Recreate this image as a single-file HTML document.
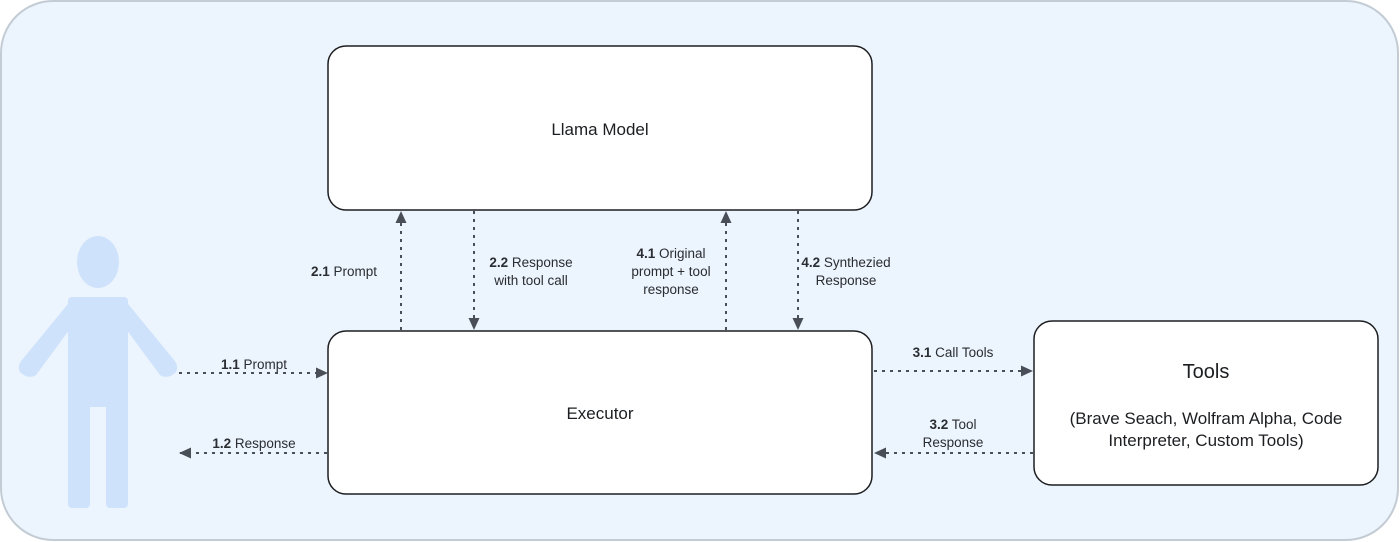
<!DOCTYPE html>
<html><head><meta charset="utf-8"><style>
html,body{margin:0;padding:0;background:#fff;}
svg{display:block;}
text{font-family:"Liberation Sans",sans-serif;fill:#1c1e21;}
.l{font-size:13.5px;fill:#2a2d31;}
.b{font-weight:bold;}
</style></head><body>
<svg width="1400" height="542" viewBox="0 0 1400 542" xmlns="http://www.w3.org/2000/svg">
<defs>
<marker id="ah" markerWidth="12" markerHeight="12" refX="11" refY="6" orient="auto" markerUnits="userSpaceOnUse">
<path d="M0,0.5 L12,6 L0,11.5 Z" fill="#4a4f57"/>
</marker>
</defs>
<rect x="1" y="1" width="1397" height="539" rx="52" fill="#ecf4fd" stroke="#c3cbd4" stroke-width="2"/>
<g fill="#cfe2fc">
<ellipse cx="98" cy="262" rx="21" ry="26"/>
<rect x="68" y="297" width="60" height="110" rx="4"/>
<rect x="68" y="390" width="22" height="118" rx="4"/>
<rect x="106" y="390" width="22" height="118" rx="4"/>
<path d="M72,299 L84,310 L36,375 Q28,380 20,372 Q17,366 22,360 Z"/>
<path d="M124,299 L112,310 L160,375 Q168,380 176,372 Q179,366 174,360 Z"/>
</g>
<rect x="328" y="46" width="544" height="164" rx="18" fill="#fff" stroke="#1c1e21" stroke-width="1.5"/>
<rect x="328" y="331" width="544" height="163" rx="18" fill="#fff" stroke="#1c1e21" stroke-width="1.5"/>
<rect x="1034" y="321" width="344" height="164" rx="18" fill="#fff" stroke="#1c1e21" stroke-width="1.5"/>
<text x="600" y="135" font-size="17" text-anchor="middle">Llama Model</text>
<text x="600" y="419" font-size="17" text-anchor="middle">Executor</text>
<text x="1206" y="378" font-size="20" text-anchor="middle">Tools</text>
<text x="1206" y="424" font-size="17" text-anchor="middle">(Brave Seach, Wolfram Alpha, Code</text>
<text x="1206" y="446" font-size="17" text-anchor="middle">Interpreter, Custom Tools)</text>
<g stroke="#4a4f57" stroke-width="2" stroke-dasharray="3,5" fill="none" marker-end="url(#ah)">
<line x1="179" y1="373" x2="327" y2="373"/>
<line x1="327" y1="453" x2="180" y2="453"/>
<line x1="401" y1="330" x2="401" y2="212"/>
<line x1="474" y1="211" x2="474" y2="329"/>
<line x1="726" y1="330" x2="726" y2="212"/>
<line x1="798" y1="211" x2="798" y2="329"/>
<line x1="874" y1="371" x2="1032" y2="371"/>
<line x1="1033" y1="453" x2="875" y2="453"/>
</g>
<text class="l" x="254" y="369" text-anchor="middle"><tspan class="b">1.1</tspan> Prompt</text>
<text class="l" x="254" y="448" text-anchor="middle"><tspan class="b">1.2</tspan> Response</text>
<text class="l" x="344" y="276" text-anchor="middle"><tspan class="b">2.1</tspan> Prompt</text>
<text class="l" x="531" y="267" text-anchor="middle"><tspan class="b">2.2</tspan> Response</text>
<text class="l" x="531" y="285" text-anchor="middle">with tool call</text>
<text class="l" x="671" y="258" text-anchor="middle"><tspan class="b">4.1</tspan> Original</text>
<text class="l" x="671" y="276" text-anchor="middle">prompt + tool</text>
<text class="l" x="671" y="294" text-anchor="middle">response</text>
<text class="l" x="846" y="267" text-anchor="middle"><tspan class="b">4.2</tspan> Synthezied</text>
<text class="l" x="846" y="285" text-anchor="middle">Response</text>
<text class="l" x="953" y="357" text-anchor="middle"><tspan class="b">3.1</tspan> Call Tools</text>
<text class="l" x="953" y="429" text-anchor="middle"><tspan class="b">3.2</tspan> Tool</text>
<text class="l" x="953" y="447" text-anchor="middle">Response</text>
</svg>
</body></html>
